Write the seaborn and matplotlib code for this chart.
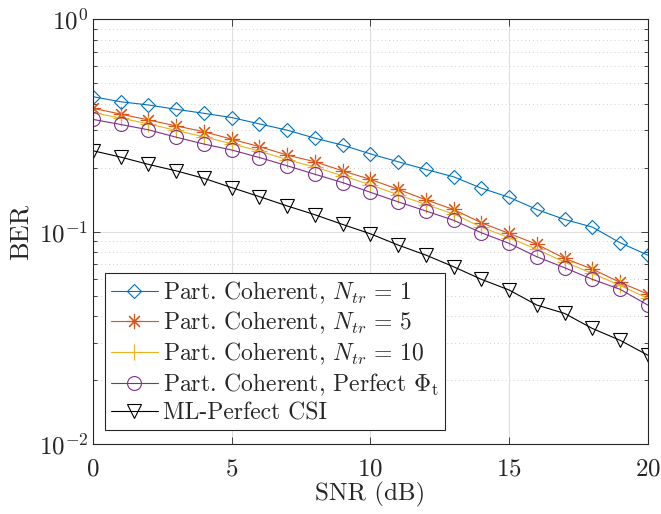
import numpy as np
import pandas as pd
import matplotlib
matplotlib.use("Agg")
import matplotlib.pyplot as plt
import seaborn as sns
from matplotlib.ticker import LogLocator, NullFormatter

snr = list(range(0, 21))
ber_ntr1 = [0.431, 0.408, 0.394, 0.376, 0.360, 0.344, 0.321, 0.300, 0.275, 0.255, 0.232,
            0.213, 0.196, 0.181, 0.160, 0.145, 0.127, 0.114, 0.105, 0.0886, 0.0775]
ber_ntr5 = [0.380, 0.357, 0.335, 0.314, 0.295, 0.272, 0.251, 0.229, 0.213, 0.193, 0.176,
            0.158, 0.141, 0.127, 0.110, 0.098, 0.0871, 0.0748, 0.0666, 0.0577, 0.0508]
ber_ntr10 = [0.363, 0.342, 0.321, 0.299, 0.279, 0.259, 0.239, 0.218, 0.201, 0.183, 0.166,
             0.149, 0.134, 0.121, 0.105, 0.0935, 0.0825, 0.0718, 0.0636, 0.0558, 0.0485]
ber_perfect = [0.337, 0.319, 0.301, 0.278, 0.258, 0.242, 0.223, 0.204, 0.186, 0.170, 0.153,
               0.138, 0.125, 0.113, 0.0987, 0.0880, 0.0761, 0.0676, 0.0596, 0.0535, 0.0451]
ber_ml = [0.240, 0.224, 0.207, 0.193, 0.178, 0.161, 0.146, 0.132, 0.120, 0.108, 0.0976,
          0.0864, 0.0775, 0.0683, 0.0596, 0.0531, 0.0451, 0.0412, 0.0350, 0.0308, 0.0262]

labels = [
    r"Part. Coherent, $N_{tr}\,=\,1$",
    r"Part. Coherent, $N_{tr}\,=\,5$",
    r"Part. Coherent, $N_{tr}\,=\,10$",
    r"Part. Coherent, Perfect $\Phi_{\mathrm{t}}$",
    "ML-Perfect CSI",
]
series = [ber_ntr1, ber_ntr5, ber_ntr10, ber_perfect, ber_ml]
colors = ["#0072BD", "#D95319", "#EDB120", "#7E2F8E", "#000000"]
markers = ["D", (8, 2, 0), "+", "o", "v"]
msizes = [7, 11, 12, 10, 10]

sns.set_style("ticks")
plt.rcParams["font.family"] = "serif"
plt.rcParams["font.serif"] = ["cmr10"]
plt.rcParams["mathtext.fontset"] = "cm"
plt.rcParams["axes.formatter.use_mathtext"] = True
plt.rcParams["axes.unicode_minus"] = False

fig = plt.figure(figsize=(6.61, 5.14), dpi=100)
ax = fig.add_axes([0.1407, 0.136, 0.8393, 0.827])

for lab, ys, c, m, ms in zip(labels, series, colors, markers, msizes):
    df = pd.DataFrame({"SNR": snr, "BER": ys})
    sns.lineplot(data=df, x="SNR", y="BER", ax=ax, color=c, marker=m, label=lab,
                 markersize=ms, markerfacecolor="none", markeredgecolor=c,
                 markeredgewidth=0.8, linewidth=0.8)

ax.set_yscale("log")
ax.set_xlim(0, 20)
ax.set_ylim(1e-2, 1)
ax.set_xticks([0, 5, 10, 15, 20])
ax.yaxis.set_minor_locator(LogLocator(base=10, subs=np.arange(2, 10)))
ax.yaxis.set_minor_formatter(NullFormatter())
ax.grid(True, which="major", color="#dfdfdf", linewidth=0.8)
ax.grid(True, which="minor", axis="y", color="#d0d0d0", linestyle=(0, (1, 3)), linewidth=0.7)
ax.set_axisbelow(True)
ax.tick_params(which="both", direction="in", top=True, right=True, labelsize=18, width=0.6)
ax.tick_params(which="major", length=5)
ax.tick_params(which="minor", length=3)
ax.tick_params(axis="x", pad=10)
for s in ax.spines.values():
    s.set_linewidth(0.8)
    s.set_color("#262626")
ax.set_xlabel("SNR (dB)", fontsize=18, labelpad=1)
ax.set_ylabel("BER", fontsize=19, labelpad=4)

leg = ax.legend(loc="lower left", bbox_to_anchor=(0.0216, 0.033), fontsize=17, frameon=True,
                fancybox=False, edgecolor="#262626", framealpha=1, handlelength=2.0,
                handletextpad=0.2, borderpad=0.25, labelspacing=0.18, borderaxespad=0)
leg.get_frame().set_linewidth(0.8)

fig.savefig("out.png", dpi=100)
